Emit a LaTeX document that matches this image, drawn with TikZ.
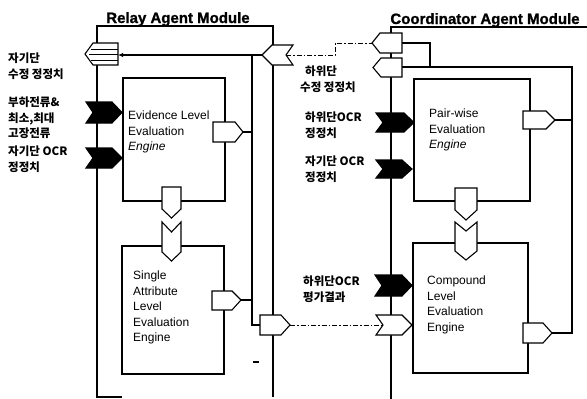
\documentclass[tikz,border=0pt]{standalone}
\usepackage{fontspec}
\setmainfont{Liberation Sans}
\newfontfamily\ttlfont{Liberation Sans}[BoldFeatures={FakeBold=1.2}]
\newfontfamily\kr{Noto Sans CJK KR}
\usetikzlibrary{arrows.meta}
\begin{document}
\begin{tikzpicture}[x=1pt,y=-1pt,
  ln/.style={line width=1.1pt, line join=miter},
  prt/.style={ln, draw, fill=white},
  blk/.style={ln, draw, fill=black},
  eng/.style={ln, draw, fill=white, inner sep=0pt, outer sep=0pt, anchor=north west},
  lbl/.style={inner sep=0pt, anchor=north west, align=left, font=\fontsize{12}{15.5}\selectfont},
  klbl/.style={inner sep=0pt, anchor=north west, align=left, font=\kr\bfseries\fontsize{11.5}{15.5}\selectfont},
  ttl/.style={inner sep=0pt, anchor=base, font=\ttlfont\bfseries\fontsize{15}{15}\selectfont},
  dsh/.style={line width=0.9pt, dash pattern=on 5pt off 2pt on 1.5pt off 2pt}]
\fill[white] (0,0) rectangle (587,399);
\useasboundingbox (0,0) rectangle (587,399);

% ---------- titles ----------
\node[ttl] (t1) at (178,23) {Relay Agent Module};
\node[ttl] (t2) at (485,24) {Coordinator Agent Module};

% ---------- named points ----------
\coordinate (rtl) at (97,26);  \coordinate (rtr) at (273,26);
\coordinate (rbl) at (97,397); \coordinate (rbr) at (273,397);
\coordinate (rbe) at (122,397);
\coordinate (tmL) at (262,55); \coordinate (tmN) at (286,55);
\coordinate (spR) at (118,55);
\coordinate (bus1) at (252,55); \coordinate (bus2) at (252,325);
\coordinate (rbpL) at (260,325); \coordinate (rbpT) at (290,325);
\coordinate (evP) at (243,132); \coordinate (saP) at (241,300);
\coordinate (cp1L) at (372,43); \coordinate (cp1R) at (402,43);
\coordinate (cp2R) at (402,67);
\coordinate (wcN) at (383,325);
\coordinate (pwP) at (555,120); \coordinate (cbP) at (552,333);
\coordinate (ctl) at (391,27); \coordinate (ctr) at (587,27); \coordinate (cbl) at (391,399);
\coordinate (dj1) at (335,55); \coordinate (dj2) at (335,43);
\coordinate (cj1) at (430,43); \coordinate (cj2) at (430,67);
\coordinate (rr1) at (572,67); \coordinate (rr2) at (572,333);

% ---------- module lines ----------
\draw[ln] (rbe) -- (rbl) -- (rtl) -- (rtr) -- (rbr);
\draw[ln,-{Latex[length=5pt,width=4.5pt]}] (tmL) -- (spR);
\draw[ln] (bus1) -- (bus2) -- (rbpL);
\draw[ln] (evP) -- (evP -| bus1);
\draw[ln] (saP) -- (saP -| bus1);
\draw[ln] (253,362) -- (259,362);

\draw[ln] (ctr) -- (ctl) -- (cbl);
\draw[ln] (cp1R) -- (cj1) -- (cj2);
\draw[ln] (cp2R) -- (rr1) -- (rr2) -- (cbP);
\draw[ln] (pwP) -- (pwP -| rr1);

\draw[dsh] (tmN) -- (dj1) -- (dj2) -- (cp1L);
\draw[dsh] (rbpT) -- (wcN);

% ---------- engine boxes ----------
\node[eng, minimum width=102pt, minimum height=123pt] (ev) at (123,78) {};
\node[eng, minimum width=102pt, minimum height=128pt] (sa) at (122,246) {};
\node[eng, minimum width=116pt, minimum height=122pt] (pw) at (414,79) {};
\node[eng, minimum width=115pt, minimum height=130pt] (cb) at (413,243) {};

\node[lbl] (evt) at (128,111) {Evidence Level\\Evaluation\\\textit{Engine}};
\node[lbl] (sat) at (133,271) {Single\\Attribute\\Level\\Evaluation\\Engine};
\node[lbl] (pwt) at (429,109) {Pair-wise\\Evaluation\\\textit{Engine}};
\node[lbl] (cbt) at (427,276) {Compound\\Level\\Evaluation\\Engine};

% ---------- output ports (pentagons pointing right) ----------
\draw[prt] (213,122) -- (235,122) -- (evP) -- (235,142) -- (213,142) -- cycle;
\draw[prt] (212,291) -- (232,291) -- (saP) -- (232,310) -- (212,310) -- cycle;
\draw[prt] (260,315) -- (281,315) -- (rbpT) -- (281,335) -- (260,335) -- cycle;
\draw[prt] (523,111) -- (546,111) -- (pwP) -- (546,129) -- (523,129) -- cycle;
\draw[prt] (523,323) -- (543,323) -- (cbP) -- (543,343) -- (523,343) -- cycle;

% ---------- downward connectors ----------
\draw[prt] (162,187) -- (181,187) -- (181,209) -- (171.5,218) -- (162,209) -- cycle;
\draw[prt] (162,222) -- (171.5,232) -- (181,222) -- (181,252) -- (171.5,261) -- (162,252) -- cycle;
\draw[prt] (455,188) -- (477,188) -- (477,210) -- (466,220) -- (455,210) -- cycle;
\draw[prt] (455,222) -- (466,231) -- (477,222) -- (477,251) -- (466,260) -- (455,251) -- cycle;

% ---------- input ports (left-pointing) ----------
\draw[prt] (118,43) -- (93,43) -- (85,54) -- (93,65) -- (118,65) -- cycle;
\draw[line width=0.8pt] (91,49) -- (118,49) (89,54.5) -- (118,54.5) (91,60) -- (118,60);
\draw[prt] (tmL) -- (272,45) -- (293,45) -- (tmN) -- (293,65) -- (272,65) -- cycle;
\draw[prt] (402,33) -- (380,33) -- (cp1L) -- (380,53) -- (402,53) -- cycle;
\draw[prt] (402,58) -- (381,58) -- (373,67.5) -- (381,77) -- (402,77) -- cycle;

% ---------- black chevrons ----------
\draw[blk] (86,102) -- (112,102) -- (122,112.5) -- (112,123) -- (86,123) -- (93,112.5) -- cycle;
\draw[blk] (86,148) -- (112,148) -- (122,158) -- (112,168) -- (86,168) -- (93,158) -- cycle;
\draw[blk] (376,113) -- (404,113) -- (414,122.5) -- (404,132) -- (376,132) -- (383,122.5) -- cycle;
\draw[blk] (376,160) -- (402,160) -- (412,169) -- (402,178) -- (376,178) -- (383,169) -- cycle;
\draw[blk] (375,275) -- (402,275) -- (412,285.5) -- (402,296) -- (375,296) -- (382,285.5) -- cycle;
\draw[prt] (376,315) -- (402,315) -- (412,325) -- (402,335) -- (376,335) -- (wcN) -- cycle;

% ---------- Korean labels ----------
\node[klbl] (k1) at (8,53) {자기단\\수정 정정치};
\node[klbl] (k2) at (8,97) {부하전류\&\\최소,최대\\고장전류};
\node[klbl] (k3) at (8,146) {자기단 OCR\\정정치};
\node[klbl] (k4) at (300,66) {\hspace{5pt}하위단\\수정 정정치};
\node[klbl] (k5) at (305,112) {하위단OCR\\정정치};
\node[klbl] (k6) at (305,156) {자기단 OCR\\정정치};
\node[klbl] (k7) at (303,276) {하위단OCR\\평가결과};
\end{tikzpicture}
\end{document}
